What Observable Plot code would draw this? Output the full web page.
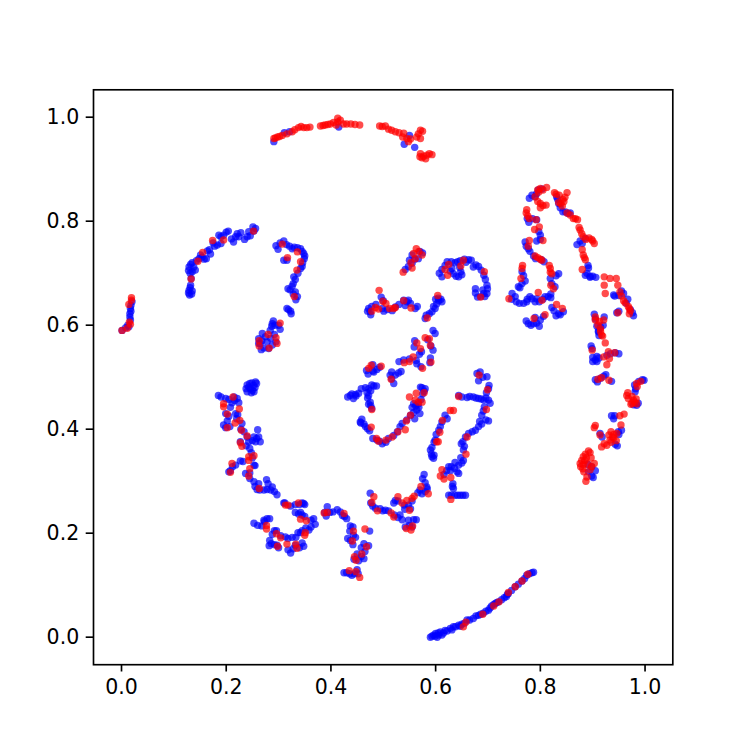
<!DOCTYPE html>
<html><head><meta charset="utf-8">
<script src="https://cdn.jsdelivr.net/npm/d3@7"></script>
<script src="https://cdn.jsdelivr.net/npm/@observablehq/plot@0.6"></script>
<style>html,body{margin:0;padding:0;background:#fff}svg{display:block}</style>
</head><body><div id="chart"></div>
<script>
const tickValues = [0, 0.2, 0.4, 0.6, 0.8, 1.0];
const bluePoints = [
[.001,.590],[.014,.597],[.017,.610],[.016,.622],[.017,.632],[.020,.645],[.016,.616],[.018,.627],[.018,.638],[.012,.600],[.008,.595],
[.130,.658],[.129,.667],[.135,.666],[.132,.677],[.133,.690],[.129,.712],[.135,.703],[.141,.706],[.132,.717],[.148,.728],[.162,.728],[.154,.731],[.164,.743],[.170,.737],[.175,.758],[.183,.754],[.186,.773],[.195,.773],[.204,.781],[.214,.760],[.221,.776],[.224,.770],[.240,.770],[.243,.780],[.251,.789],[.253,.781],
[.131,.672],[.134,.660],[.128,.662],[.131,.700],[.138,.712],[.128,.705],[.135,.720],[.143,.724],[.151,.735],[.158,.727],[.168,.745],[.178,.752],[.190,.757],[.190,.770],[.200,.779],[.210,.766],[.218,.770],[.228,.778],[.235,.765],[.246,.772],[.256,.786],
[.295,.753],[.299,.746],[.310,.762],[.321,.752],[.326,.747],[.342,.747],[.348,.738],[.349,.728],[.316,.725],[.310,.725],[.342,.709],[.329,.693],[.328,.680],[.318,.670],[.328,.660],[.333,.649],[.319,.630],[.324,.622],[.290,.608],[.284,.590],[.303,.592],[.269,.584],[.262,.574],[.278,.568],[.295,.568],[.267,.553],[.281,.555],[.288,.603],
[.303,.758],[.315,.755],[.330,.750],[.336,.749],[.345,.742],[.350,.733],[.346,.720],[.345,.713],[.337,.700],[.332,.688],[.326,.675],[.322,.668],[.332,.664],[.336,.655],[.323,.627],[.316,.632],[.293,.600],[.287,.598],[.300,.600],[.275,.578],[.268,.570],[.265,.565],[.272,.556],[.288,.562],[.292,.582],[.285,.575],[.262,.565],
[.291,.953],[.311,.970],[.321,.972],[.415,.981],[.540,.948],[.550,.965],[.560,.942],
[.542,.707],[.555,.719],[.555,.735],[.575,.739],[.567,.728],[.548,.713],[.560,.727],[.570,.742],[.550,.725],
[.612,.693],[.612,.707],[.618,.715],[.637,.720],[.647,.724],[.663,.726],[.634,.699],[.644,.693],[.648,.703],[.672,.712],[.682,.713],[.692,.696],[.698,.677],[.676,.670],[.698,.661],[.680,.654],[.692,.661],[.631,.709],
[.607,.700],[.622,.722],[.630,.722],[.642,.722],[.655,.727],[.668,.725],[.677,.716],[.687,.706],[.695,.688],[.699,.670],[.694,.655],[.676,.662],[.686,.655],[.628,.704],[.639,.694],[.650,.697],[.646,.711],[.658,.721],[.690,.668],
[.472,.632],[.475,.626],[.496,.654],[.501,.627],[.539,.648],[.548,.648],[.542,.638],[.561,.632],[.523,.635],[.517,.628],
[.470,.627],[.478,.636],[.486,.640],[.500,.647],[.498,.632],[.508,.630],[.530,.640],[.545,.645],[.552,.642],[.565,.636],[.476,.620],
[.606,.647],[.612,.645],[.599,.632],[.593,.626],[.582,.619],[.580,.613],[.602,.641],[.605,.652],[.596,.636],[.588,.622],[.610,.650],[.600,.650],
[.599,.584],[.591,.560],[.559,.558],[.569,.544],[.534,.511],[.523,.504],[.513,.504],[.520,.488],[.564,.526],[.539,.533],[.590,.537],[.482,.510],[.468,.513],[.493,.519],
[.595,.590],[.585,.572],[.595,.552],[.560,.570],[.573,.549],[.550,.535],[.530,.530],[.529,.508],[.516,.510],[.516,.497],[.572,.520],[.563,.532],[.589,.528],[.471,.506],[.480,.512],[.488,.515],[.480,.524],
[.437,.465],[.447,.467],[.443,.459],[.453,.469],[.472,.478],[.482,.483],[.487,.483],[.472,.465],[.475,.452],[.478,.440],[.459,.419],[.456,.414],[.470,.401],[.488,.379],[.498,.372],[.520,.388],[.536,.411],[.552,.427],[.564,.437],[.571,.481],[.580,.478],[.558,.449],[.567,.449],
[.432,.462],[.440,.468],[.448,.464],[.458,.478],[.466,.480],[.478,.485],[.476,.474],[.469,.470],[.470,.460],[.472,.448],[.476,.445],[.457,.412],[.463,.410],[.466,.405],[.474,.397],[.480,.382],[.493,.377],[.505,.375],[.510,.382],[.527,.395],[.532,.405],[.545,.418],[.558,.432],[.568,.442],[.574,.480],[.578,.473],[.572,.457],[.555,.442],[.562,.445],[.570,.430],[.560,.420],[.575,.468],
[.679,.507],[.698,.501],[.682,.493],[.701,.478],[.644,.465],[.660,.461],[.672,.462],[.682,.459],[.692,.456],[.701,.456],[.693,.443],[.688,.427],[.701,.416],[.688,.410],[.676,.398],[.663,.392],[.652,.376],[.655,.367],[.618,.427],[.612,.414],[.606,.398],[.599,.379],[.593,.365],[.593,.347],[.596,.344],[.653,.340],[.644,.331],[.625,.328],[.641,.318],[.644,.315],[.633,.295],[.634,.286],[.625,.273],[.637,.273],[.647,.273],[.657,.273],[.578,.313],[.580,.297],[.574,.276],[.583,.289],[.523,.263],[.475,.277],[.476,.258],[.494,.247],[.504,.244],[.532,.235],[.536,.226],[.548,.254],[.548,.225],[.563,.226],[.555,.212],[.474,.204],
[.650,.462],[.665,.463],[.677,.460],[.687,.458],[.696,.460],[.704,.450],[.697,.470],[.702,.484],[.690,.500],[.685,.510],[.691,.435],[.684,.415],[.696,.418],[.682,.405],[.670,.395],[.657,.385],[.649,.372],[.653,.360],[.622,.420],[.609,.405],[.601,.390],[.597,.375],[.590,.360],[.592,.352],[.597,.350],[.648,.345],[.637,.336],[.621,.320],[.636,.325],[.630,.328],[.616,.313],[.628,.320],[.650,.335],[.632,.290],[.630,.273],[.642,.273],[.652,.273],[.575,.305],[.584,.285],[.570,.283],[.580,.280],[.566,.278],[.555,.262],[.540,.254],[.528,.262],[.520,.258],[.541,.246],[.552,.247],[.558,.226],[.550,.215],[.542,.212],[.510,.243],[.499,.243],[.485,.248],[.480,.252],[.528,.230],[.521,.235],
[.779,.844],[.790,.847],[.796,.860],[.831,.847],[.835,.834],[.843,.818],[.857,.816],[.775,.805],[.793,.803],[.800,.773],[.793,.762],[.771,.760],[.777,.747],[.787,.733],[.807,.722],[.765,.703],[.771,.685],[.758,.674],[.819,.690],[.835,.699],[.828,.674],[.746,.661],[.754,.645],[.768,.642],[.784,.651],[.793,.651],[.809,.655],[.820,.653],[.774,.645],[.790,.645],[.822,.634],[.835,.622],[.844,.626],[.777,.603],[.787,.603],[.793,.604],[.806,.617],[.876,.762],[.886,.767],[.891,.715],[.886,.696],[.900,.694],[.895,.694],[.940,.658],[.959,.661],[.964,.642],[.946,.624],[.976,.624],[.903,.621],[.922,.616],[.911,.587],
[.784,.850],[.793,.853],[.803,.862],[.833,.842],[.838,.826],[.848,.818],[.853,.815],[.778,.798],[.785,.805],[.797,.780],[.800,.765],[.773,.752],[.780,.742],[.791,.728],[.802,.726],[.768,.695],[.765,.680],[.761,.672],[.822,.680],[.820,.660],[.830,.695],[.752,.655],[.760,.642],[.745,.650],[.775,.650],[.780,.655],[.798,.645],[.805,.650],[.815,.655],[.826,.628],[.838,.620],[.830,.618],[.782,.600],[.773,.608],[.800,.610],[.790,.615],[.798,.598],[.880,.757],[.870,.755],[.892,.710],[.889,.700],[.895,.692],[.906,.692],[.942,.656],[.950,.657],[.967,.650],[.955,.666],[.972,.630],[.978,.618],[.950,.627],[.905,.612],[.920,.600],[.915,.596],[.908,.598],
[.911,.589],[.899,.555],[.905,.533],[.908,.530],[.927,.542],[.943,.547],[.921,.502],[.909,.491],[.998,.494],[.981,.472],[.984,.446],[.942,.426],[.949,.395],[.943,.371],[.914,.392],[.898,.328],[.901,.307],
[.912,.580],[.897,.560],[.900,.538],[.900,.530],[.908,.540],[.912,.537],[.934,.545],[.950,.545],[.925,.505],[.915,.498],[.905,.495],[.936,.492],[.988,.492],[.995,.495],[.980,.485],[.982,.478],[.987,.450],[.978,.447],[.936,.426],[.940,.420],[.950,.390],[.955,.398],[.947,.368],[.918,.385],[.905,.320],[.892,.318],[.898,.310],[.891,.332],
[.240,.485],[.249,.489],[.256,.491],[.246,.478],[.253,.472],[.243,.481],[.245,.488],[.252,.484],[.238,.478],[.248,.470],[.255,.480],[.250,.475],[.240,.472],[.258,.488],
[.185,.465],[.199,.459],[.211,.451],[.221,.459],[.224,.451],[.199,.430],[.218,.430],[.202,.416],[.199,.403],[.230,.411],[.260,.399],[.234,.395],[.253,.385],[.243,.376],[.227,.376],[.265,.376],[.256,.376],[.245,.363],[.227,.339],[.218,.331],[.205,.318],[.253,.331],[.237,.315],[.253,.299],[.259,.284],[.277,.303],[.272,.283],[.288,.289],[.297,.274],[.310,.258],[.323,.252],[.345,.258],[.348,.257],[.338,.237],[.345,.235],[.367,.228],[.370,.217],[.358,.206],[.342,.201],[.253,.219],[.268,.214],[.278,.228],[.272,.225],[.292,.205],[.313,.193],[.326,.192],[.345,.181],[.286,.180],[.297,.177],[.323,.162],[.332,.177],
[.190,.462],[.205,.457],[.216,.455],[.208,.442],[.215,.462],[.205,.425],[.222,.428],[.195,.408],[.207,.405],[.220,.420],[.228,.400],[.240,.385],[.238,.368],[.250,.378],[.262,.385],[.258,.382],[.248,.355],[.250,.345],[.232,.338],[.212,.328],[.208,.320],[.245,.316],[.255,.330],[.245,.305],[.262,.295],[.255,.290],[.264,.283],[.280,.295],[.285,.283],[.292,.280],[.278,.284],[.312,.258],[.332,.255],[.340,.255],[.350,.255],[.332,.240],[.342,.240],[.350,.232],[.362,.225],[.362,.212],[.352,.210],[.345,.205],[.337,.201],[.260,.215],[.273,.222],[.283,.228],[.288,.198],[.296,.205],[.304,.195],[.318,.190],[.333,.192],[.340,.172],[.348,.175],[.292,.178],[.282,.176],[.283,.186],[.300,.172],[.328,.170],[.318,.168],
[.393,.251],[.391,.233],[.404,.241],[.418,.241],[.430,.228],[.437,.214],[.443,.196],[.437,.186],[.463,.180],[.472,.176],[.463,.151],[.453,.147],[.430,.124],[.440,.119],[.450,.130],
[.398,.240],[.388,.240],[.412,.245],[.422,.234],[.426,.232],[.442,.212],[.436,.204],[.442,.178],[.432,.190],[.447,.192],[.458,.172],[.465,.165],[.458,.155],[.444,.150],[.450,.160],[.436,.122],[.445,.122],[.452,.122],[.425,.124],
[.593,.002],[.599,.002],[.606,.004],[.612,.004],[.609,.010],[.618,.013],[.628,.017],[.634,.020],[.644,.023],[.650,.025],[.660,.033],[.672,.036],[.682,.042],[.691,.046],[.701,.052],[.707,.060],[.714,.065],[.720,.068],[.735,.078],[.739,.084],[.752,.097],[.765,.108],[.774,.119],[.784,.124],[.590,.000],
[.596,.004],[.603,.000],[.615,.008],[.622,.012],[.631,.014],[.638,.020],[.647,.021],[.655,.027],[.665,.033],[.677,.041],[.686,.044],[.696,.050],[.704,.056],[.711,.063],[.717,.067],[.726,.072],[.731,.076],[.737,.082],[.745,.090],[.758,.102],[.770,.113],[.779,.122],[.787,.125],[.600,.007],[.605,.008]
];
const redPoints = [
[.001,.590],[.011,.594],[.015,.606],[.014,.640],[.019,.648],[.019,.653],[.017,.602],
[.133,.689],[.146,.723],[.155,.740],[.174,.763],[.195,.764],[.252,.781],
[.307,.756],[.336,.741],[.317,.730],[.342,.722],[.335,.706],[.330,.655],[.303,.604],[.280,.582],[.295,.576],[.263,.570],[.263,.560],[.297,.565],[.282,.556],
[.291,.959],[.294,.960],[.307,.965],[.326,.972],[.338,.980],[.348,.980],[.360,.981],[.380,.983],[.389,.985],[.399,.987],[.413,.998],[.413,.991],[.424,.987],[.438,.987],[.455,.985],[.493,.983],[.504,.983],[.510,.977],[.523,.972],[.539,.969],[.545,.959],[.548,.953],[.571,.975],[.575,.973],[.564,.962],[.571,.959],[.571,.930],[.574,.922],[.593,.928],[.583,.927],
[.298,.962],[.302,.963],[.316,.968],[.331,.976],[.343,.982],[.354,.980],[.385,.984],[.394,.986],[.405,.990],[.410,.985],[.418,.994],[.430,.987],[.446,.986],[.498,.982],[.516,.975],[.530,.970],[.552,.958],[.567,.968],[.577,.925],[.588,.930],[.570,.924],[.581,.920],[.537,.962],
[.538,.702],[.555,.710],[.553,.720],[.561,.728],[.563,.747],[.558,.738],[.574,.735],[.568,.742],
[.625,.717],[.618,.707],[.623,.696],[.653,.725],[.648,.714],[.693,.703],[.686,.654],
[.492,.667],[.499,.646],[.478,.627],[.485,.634],[.505,.642],[.512,.632],[.520,.632],[.523,.634],[.539,.647],[.553,.633],[.491,.631],
[.604,.657],[.584,.614],
[.580,.576],[.588,.574],[.590,.561],[.564,.566],[.571,.555],[.557,.539],[.550,.530],[.540,.528],[.591,.529],[.575,.517],[.515,.496],[.472,.517],[.477,.523],[.496,.521],
[.478,.438],[.477,.404],[.487,.382],[.491,.377],[.505,.379],[.517,.385],[.528,.395],[.542,.399],[.544,.416],[.552,.427],[.550,.462],[.563,.469],[.561,.456],[.567,.452],[.574,.452],[.578,.470],
[.644,.463],[.699,.476],[.683,.504],[.697,.438],[.660,.385],[.628,.436],[.634,.436],[.613,.417],[.608,.394],[.602,.376],[.605,.376],[.658,.352],[.612,.322],[.609,.310],[.616,.304],[.629,.307],[.629,.265],[.586,.276],[.572,.290],[.559,.271],[.555,.267],[.545,.263],[.536,.258],[.528,.270],[.482,.270],[.478,.259],[.489,.243],[.515,.239],[.520,.231],[.550,.244],[.556,.214],[.544,.209],[.553,.206],[.465,.208],
[.812,.865],[.800,.863],[.797,.856],[.790,.847],[.827,.855],[.836,.850],[.851,.855],[.847,.846],[.839,.834],[.842,.829],[.800,.834],[.800,.826],[.811,.831],[.774,.822],[.773,.816],[.779,.805],[.792,.803],[.798,.789],[.789,.784],[.805,.763],[.779,.763],[.777,.752],[.795,.730],[.803,.725],[.766,.715],[.765,.709],[.763,.690],[.819,.709],[.822,.699],[.820,.677],[.825,.670],[.796,.663],[.803,.648],[.740,.651],[.831,.640],[.842,.632],[.809,.620],[.788,.613],[.851,.816],[.863,.805],[.871,.803],[.874,.788],[.879,.776],[.887,.765],[.898,.765],[.903,.757],[.880,.745],[.886,.726],[.880,.707],[.922,.693],[.933,.690],[.945,.690],[.922,.677],[.948,.677],[.924,.661],[.952,.664],[.959,.647],[.970,.632],[.970,.622],[.948,.624],[.905,.616],[.921,.610],[.910,.600],[.919,.579],
[.805,.860],[.795,.860],[.830,.852],[.843,.842],[.845,.838],[.835,.836],[.805,.830],[.795,.838],[.776,.810],[.857,.812],[.867,.805],[.876,.783],[.882,.770],[.893,.768],[.900,.762],[.882,.735],[.884,.730],[.800,.727],[.790,.733],[.819,.702],[.817,.715],[.972,.628],[.968,.636],[.962,.643],[.955,.656],[.905,.610],[.913,.607],[.915,.593],[.915,.588],
[.917,.581],[.924,.566],[.899,.552],[.921,.539],[.932,.536],[.930,.549],[.942,.547],[.927,.524],[.910,.496],[.917,.499],[.931,.494],[.984,.488],[.992,.492],[.967,.470],[.968,.459],[.978,.456],[.984,.449],[.973,.448],[.952,.426],[.960,.429],[.954,.408],[.903,.403],[.914,.389],[.931,.389],[.933,.379],[.946,.392],[.917,.366],[.927,.369],[.892,.358],[.895,.355],[.882,.347],[.876,.334],[.881,.324],[.903,.334],[.895,.322],[.889,.308],[.887,.300],[.879,.340],
[.975,.463],[.980,.452],[.965,.465],[.983,.458],[.935,.395],[.940,.383],[.945,.378],[.922,.372],[.938,.385],[.886,.352],[.885,.340],[.877,.328],[.882,.332],[.888,.345],[.897,.345],[.890,.333],[.898,.328],[.883,.318],[.905,.407],[.940,.390],[.975,.450],[.985,.482],[.935,.375],
[.213,.462],[.195,.449],[.195,.443],[.225,.439],[.202,.429],[.217,.412],[.226,.417],[.202,.403],[.229,.398],[.240,.387],[.227,.374],[.230,.367],[.253,.349],[.243,.347],[.243,.340],[.245,.324],[.211,.334],[.208,.317],[.243,.310],[.263,.286],[.313,.254],[.318,.254],[.338,.258],[.342,.227],[.353,.224],[.351,.201],[.350,.196],[.277,.215],[.277,.208],[.296,.199],[.304,.191],[.298,.175],[.316,.179],[.333,.179],[.335,.171],
[.393,.240],[.387,.239],[.425,.238],[.443,.204],[.441,.185],[.459,.160],[.445,.155],[.448,.148],[.435,.128],[.448,.126],[.455,.115],[.468,.174],
[.658,.029],[.653,.020],[.690,.044],[.711,.060],[.721,.068],[.739,.086],[.752,.097],[.765,.108],[.776,.121]
];
const fontSize = 20.5;
const chart = Plot.plot({
  width: 747, height: 747,
  marginLeft: 93, marginRight: 74.7, marginTop: 89.3, marginBottom: 82.8,
  style: {fontFamily: "'DejaVu Sans'", fontSize: fontSize + "px", background: "#fff", color: "#000"},
  x: {domain: [-0.0535, 1.053], label: null},
  y: {domain: [-0.0529, 1.0527], label: null},
  marks: [
    Plot.dot(bluePoints, {x: d => d[0], y: d => d[1], r: 3.7, fill: "#0000ff", fillOpacity: 0.7, stroke: "none"}),
    Plot.dot(redPoints, {x: d => d[0], y: d => d[1], r: 3.7, fill: "#ff0000", fillOpacity: 0.7, stroke: "none"}),
    Plot.frame({stroke: "#000", strokeWidth: 1.66}),
    Plot.axisX({ticks: tickValues, tickFormat: d3.format(".1f"), tickSize: 7.3, tickPadding: 7, strokeWidth: 1.66, strokeOpacity: 1, fontSize: fontSize, label: null}),
    Plot.axisY({ticks: tickValues, tickFormat: d3.format(".1f"), tickSize: 7.3, tickPadding: 7, strokeWidth: 1.66, strokeOpacity: 1, fontSize: fontSize, label: null})
  ]
});
document.getElementById("chart").appendChild(chart);
</script></body></html>
